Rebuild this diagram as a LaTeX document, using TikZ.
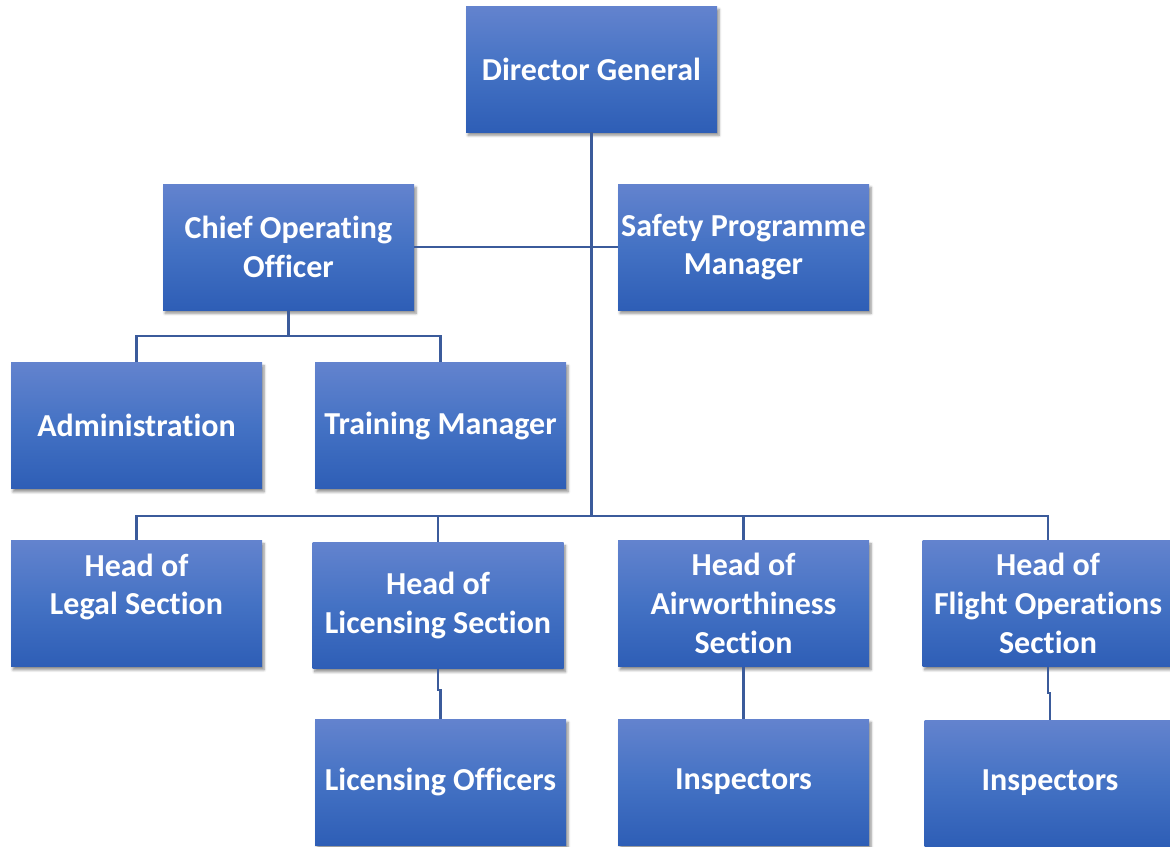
\documentclass[tikz,border=0pt]{standalone}
\usepackage{fontspec}
\setmainfont[Ligatures=NoCommon]{Carlito}
\usetikzlibrary{shadows.blur}
\definecolor{boxtop}{HTML}{6383CE}
\definecolor{boxmid}{HTML}{4472C4}
\definecolor{boxbot}{HTML}{2E5EB6}
\definecolor{linkcol}{HTML}{3B5B9B}
\tikzset{
  orgbox/.style={rectangle, draw=none, top color=boxtop, bottom color=boxbot, middle color=boxmid,
    minimum width=188.25pt, minimum height=94.5pt, inner sep=0pt, align=center,
    text=white, font=\fontsize{24}{29}\selectfont\bfseries,
    blur shadow={shadow xshift=1.5pt, shadow yshift=-2.5pt, shadow blur steps=6, shadow blur extra rounding=0pt, shadow opacity=45}},
  link/.style={draw=linkcol, line width=2.2pt}
}
\begin{document}
\begin{tikzpicture}[x=0.75pt, y=-0.75pt]
\useasboundingbox (0,0) rectangle (1170,846);
\node[orgbox] (dg)  at (591.5,69) {Director General};
\node[orgbox] (coo) at (288.5,247) {Chief Operating\\Officer};
\node[orgbox] (spm) at (743.5,247) {Safety Programme\\Manager};
\node[orgbox] (adm) at (136.5,425.5) {Administration};
\node[orgbox] (trn) at (440.5,425.5) {Training Manager};
\node[orgbox] (leg) at (136.5,603.5) {Head of\\Legal Section\\\mbox{}};
\node[orgbox] (lic) at (438,605.5) {Head of\\Licensing Section};
\node[orgbox] (air) at (743.5,603.5) {Head of\\Airworthiness\\Section};
\node[orgbox] (flt) at (1048,603.5) {Head of\\Flight Operations\\Section};
\node[orgbox] (lo)  at (440.5,782) {Licensing Officers};
\node[orgbox] (ins1) at (743.5,782) {Inspectors};
\node[orgbox] (ins2) at (1050,783) {Inspectors};
\coordinate (bus) at (591.5,516);
\coordinate (cbus) at (288.5,336);
\coordinate (licj) at (438,690);
\coordinate (fltj) at (1048,693);
\draw[link] (dg.south) -- (bus);
\draw[link] (coo.east) -- (spm.west);
\draw[link] (bus) -| (leg.north);
\draw[link] (bus) -| (lic.north);
\draw[link] (bus) -| (air.north);
\draw[link] (bus) -| (flt.north);
\draw[link] (coo.south) -- (cbus);
\draw[link] (cbus) -| (adm.north);
\draw[link] (cbus) -| (trn.north);
\draw[link] (lic.south) -- (licj) -| (lo.north);
\draw[link] (air.south) -- (ins1.north);
\draw[link] (flt.south) -- (fltj) -| (ins2.north);
\end{tikzpicture}
\end{document}
